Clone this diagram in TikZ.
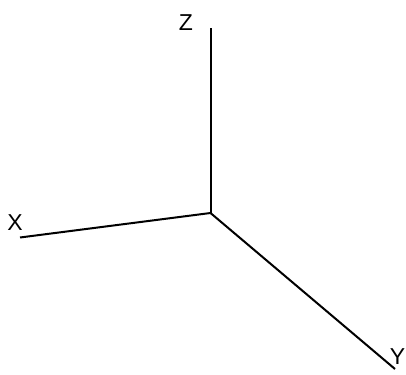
\documentclass[tikz,border=0pt]{standalone}
\usepackage{fontspec}
\setmainfont{Liberation Sans}
\begin{document}
\begin{tikzpicture}[x=1pt,y=-1pt,axis/.style={line width=2pt},lbl/.style={font=\fontsize{23}{23}\selectfont,inner sep=0pt}]
\useasboundingbox (0,0) rectangle (406,374);
\coordinate (O) at (210.5,213);
\coordinate (Zend) at (210.5,28);
\coordinate (Xend) at (20,237.5);
\coordinate (Yend) at (395,369);
\draw[axis] (O) -- (Zend);
\draw[axis] (O) -- (Xend);
\draw[axis] (O) -- (Yend);
\node[lbl] (Z) at (186,22.5) {Z};
\node[lbl] (X) at (15,223) {X};
\node[lbl] (Y) at (397.5,357) {Y};
\end{tikzpicture}
\end{document}
